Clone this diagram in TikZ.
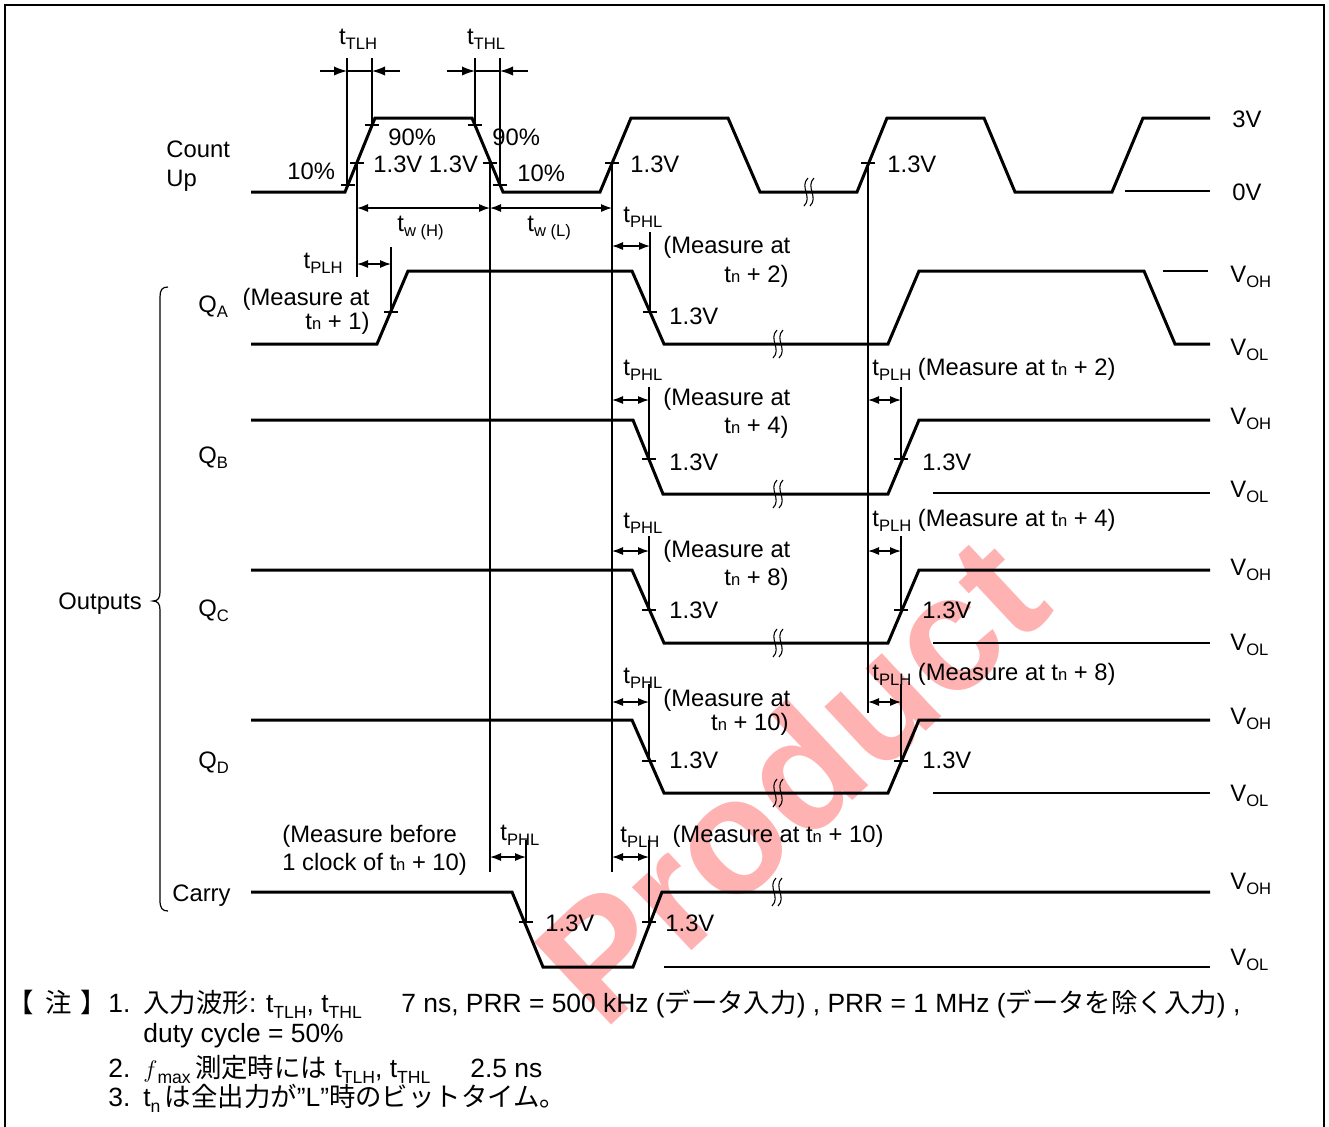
\documentclass[tikz,border=0pt]{standalone}
\usepackage{fontspec}
\setmainfont{Liberation Sans}
\newfontfamily\jp{Noto Sans CJK JP}
\usetikzlibrary{arrows.meta}
\newcommand\lbl{\fontsize{11.9}{14}\selectfont}
\newcommand\smf{\fontsize{8.3}{10}\selectfont}
\newcommand\lo[1]{\raisebox{-2.6pt}{\smf #1}}
\newcommand\tnn{t{\smf n}}
\newcommand\ntf{\fontsize{13.2}{16}\selectfont}
\newcommand\nsm{\fontsize{8.8}{11}\selectfont}
\newcommand\nlo[1]{\raisebox{-3pt}{\nsm #1}}
\definecolor{wm}{RGB}{255,178,178}
\newcommand\tk[2]{\draw[thinl] ({#1-7},#2) -- ({#1+7},#2);}
\newcommand\brk[2]{\draw[line width=0.55pt] ({#1+2},{#2-14}) .. controls ({#1-7},{#2-5}) and ({#1+7},{#2+5}) .. ({#1-2},{#2+14});
  \draw[line width=0.55pt] ({#1+8},{#2-14}) .. controls ({#1-1},{#2-5}) and ({#1+13},{#2+5}) .. ({#1+4},{#2+14});}
\begin{document}
\begin{tikzpicture}[x=0.5pt,y=-0.5pt,
  wave/.style={line width=1.5pt, line join=miter},
  thinl/.style={line width=0.6pt},
  dim/.style={line width=0.6pt, {Latex[length=5.5pt,width=4pt]}-{Latex[length=5.5pt,width=4pt]}},
  arr/.style={line width=0.6pt, -{Latex[length=6.5pt,width=4.6pt]}},
  lab/.style={font=\lbl, inner sep=0pt, anchor=base west},
  labr/.style={font=\lbl, inner sep=0pt, anchor=base east},
  labc/.style={font=\lbl, inner sep=0pt, anchor=base},
  note/.style={font=\ntf, inner sep=0pt, anchor=base west}]
\useasboundingbox (0,0) rectangle (1329,1126);
\fill[white] (0,0) rectangle (1329,1126);
% watermark
\node[rotate=43, anchor=base west, inner sep=0pt, text=wm, font=\fontsize{82}{82}\selectfont\bfseries] (wmk) at (603,1033) {Product};
% frame
\draw[line width=1.3pt] (5,1140) -- (5,5) -- (1324,5) -- (1324,1140);

% ---------- Count Up ----------
\draw[wave] (251,192) -- (345,192) -- (375,118) -- (472,118) -- (503,192) -- (600,192) -- (631,118) -- (728,118) -- (760,192) -- (857,192) -- (887,118) -- (984,118) -- (1015,192) -- (1112,192) -- (1143,118) -- (1210,118);
\draw[thinl] (1125,191) -- (1210,191);
\brk{806}{192}
\tk{357}{163} \tk{490}{163} \tk{612}{163} \tk{868}{163}
\tk{348}{185} \tk{372}{125} \tk{475}{125} \tk{500}{185}
% measurement verticals
\draw[thinl] (347,58) -- (347,185);
\draw[thinl] (372,58) -- (372,125);
\draw[thinl] (475,58) -- (475,125);
\draw[thinl] (500,58) -- (500,185);
\draw[thinl] (357,163) -- (357,277);
\draw[thinl] (490,163) -- (490,872);
\draw[thinl] (612,163) -- (612,872);
\draw[thinl] (868,163) -- (868,713);
% tTLH / tTHL
\draw[thinl] (347,71) -- (372,71);
\draw[arr] (320,71) -- (347,71);
\draw[arr] (400,71) -- (372,71);
\draw[thinl] (475,71) -- (500,71);
\draw[arr] (447,71) -- (475,71);
\draw[arr] (528,71) -- (500,71);
\node[labc] (ttlh) at (358,44) {t\lo{TLH}};
\node[labc] (tthl) at (486,44) {t\lo{THL}};
% tw
\draw[dim] (357,208) -- (490,208);
\draw[dim] (490,208) -- (612,208);
\node[lab] (twh) at (397,231) {t\lo{w (H)}};
\node[lab] (twl) at (527,231) {t\lo{w (L)}};
\node[lab] (p90a) at (388,145) {90\%};
\node[lab] (p90b) at (492,145) {90\%};
\node[lab] (v13ab) at (373,172) {1.3V 1.3V};
\node[lab] (p10a) at (287,179) {10\%};
\node[lab] (p10b) at (517,181) {10\%};
\node[lab] (v13c) at (630,172) {1.3V};
\node[lab] (v13d) at (887,172) {1.3V};
\node[lab] (l3v) at (1232,127) {3V};
\node[lab] (l0v) at (1232,200) {0V};
\node[lab] (cnt) at (166,157) {Count};
\node[lab] (up) at (166,186) {Up};

% ---------- QA ----------
\draw[wave] (251,344) -- (377,344) -- (408,271) -- (632,271) -- (664,344) -- (888,344) -- (919,271) -- (1144,271) -- (1175,344) -- (1210,344);
\draw[thinl] (1163,271) -- (1208,271);
\brk{775}{344}
\tk{391}{312} \tk{650}{312}
\draw[thinl] (391,247) -- (391,312);
\draw[thinl] (650,232) -- (650,312);
\draw[dim] (357,264) -- (391,264);
\draw[dim] (612,246) -- (650,246);
\node[labr] (qatplh) at (343,268) {t\lo{PLH}};
\node[labr] (qam1) at (370,305) {(Measure at};
\node[labr] (qam2) at (370,329) {\tnn{} + 1)};
\node[lab] (qatphl) at (623,222) {t\lo{PHL}};
\node[lab] (qam3) at (663,253) {(Measure at};
\node[labr] (qam4) at (789,282) {\tnn{} + 2)};
\node[lab] (qav) at (669,324) {1.3V};
\node[lab] (qa) at (198,312) {Q\lo{A}};
\node[lab] (qavoh) at (1230,282) {V\lo{OH}};
\node[lab] (qavol) at (1230,355) {V\lo{OL}};

% ---------- QB ----------
\draw[wave] (251,420) -- (633,420) -- (663,494) -- (888,494) -- (919,420) -- (1210,420);
\draw[thinl] (933,493) -- (1210,493);
\brk{775}{494}
\tk{649}{459} \tk{901}{459}
\draw[thinl] (649,387) -- (649,459);
\draw[thinl] (901,387) -- (901,459);
\draw[dim] (612,400) -- (649,400);
\draw[dim] (868,400) -- (901,400);
\node[lab] (qbtphl) at (623,375) {t\lo{PHL}};
\node[lab] (qbm1) at (663,405) {(Measure at};
\node[labr] (qbm2) at (789,433) {\tnn{} + 4)};
\node[lab] (qbv1) at (669,470) {1.3V};
\node[lab] (qbtplh) at (872,375) {t\lo{PLH} (Measure at \tnn{} + 2)};
\node[lab] (qbv2) at (922,470) {1.3V};
\node[lab] (qb) at (198,463) {Q\lo{B}};
\node[lab] (qbvoh) at (1230,424) {V\lo{OH}};
\node[lab] (qbvol) at (1230,497) {V\lo{OL}};

% ---------- QC ----------
\draw[wave] (251,570) -- (632,570) -- (664,643) -- (888,643) -- (919,570) -- (1210,570);
\draw[thinl] (933,643) -- (1210,643);
\brk{775}{643}
\tk{649}{610} \tk{901}{610}
\draw[thinl] (649,536) -- (649,610);
\draw[thinl] (901,536) -- (901,610);
\draw[dim] (612,551) -- (649,551);
\draw[dim] (868,551) -- (901,551);
\node[lab] (qctphl) at (623,528) {t\lo{PHL}};
\node[lab] (qcm1) at (663,557) {(Measure at};
\node[labr] (qcm2) at (789,585) {\tnn{} + 8)};
\node[lab] (qcv1) at (669,618) {1.3V};
\node[lab] (qctplh) at (872,526) {t\lo{PLH} (Measure at \tnn{} + 4)};
\node[lab] (qcv2) at (922,618) {1.3V};
\node[lab] (qc) at (198,616) {Q\lo{C}};
\node[lab] (qcvoh) at (1230,575) {V\lo{OH}};
\node[lab] (qcvol) at (1230,650) {V\lo{OL}};

% ---------- QD ----------
\draw[wave] (251,720) -- (632,720) -- (664,793) -- (888,793) -- (919,720) -- (1210,720);
\draw[thinl] (933,793) -- (1210,793);
\brk{775}{793}
\tk{649}{761} \tk{901}{761}
\draw[thinl] (649,684) -- (649,761);
\draw[thinl] (901,684) -- (901,761);
\draw[dim] (612,702) -- (649,702);
\draw[dim] (868,702) -- (901,702);
\node[lab] (qdtphl) at (623,683) {t\lo{PHL}};
\node[lab] (qdm1) at (663,706) {(Measure at};
\node[labr] (qdm2) at (789,730) {\tnn{} + 10)};
\node[lab] (qdv1) at (669,768) {1.3V};
\node[lab] (qdtplh) at (872,680) {t\lo{PLH} (Measure at \tnn{} + 8)};
\node[lab] (qdv2) at (922,768) {1.3V};
\node[lab] (qd) at (198,768) {Q\lo{D}};
\node[lab] (qdvoh) at (1230,724) {V\lo{OH}};
\node[lab] (qdvol) at (1230,801) {V\lo{OL}};

% ---------- Carry ----------
\draw[wave] (251,892) -- (512,892) -- (543,967) -- (633,967) -- (662,892) -- (1210,892);
\draw[thinl] (664,967) -- (1210,967);
\brk{774}{892}
\tk{526}{922} \tk{649}{922}
\draw[thinl] (526,840) -- (526,922);
\draw[thinl] (649,840) -- (649,922);
\draw[dim] (490,857) -- (526,857);
\draw[dim] (612,857) -- (649,857);
\node[lab] (cam1) at (282,842) {(Measure before};
\node[lab] (cam2) at (282,870) {1 clock of \tnn{} + 10)};
\node[lab] (catphl) at (500,840) {t\lo{PHL}};
\node[lab] (catplh) at (620,842) {t\lo{PLH}\ \ (Measure at \tnn{} + 10)};
\node[lab] (cav1) at (545,931) {1.3V};
\node[lab] (cav2) at (665,931) {1.3V};
\node[lab] (carry) at (172,901) {Carry};
\node[lab] (cavoh) at (1230,889) {V\lo{OH}};
\node[lab] (cavol) at (1230,965) {V\lo{OL}};

% ---------- Outputs brace ----------
\draw[thinl] (168,287) .. controls (162,287) and (160,290) .. (160,297) -- (160,592) .. controls (160,598) and (158,601) .. (153,601) .. controls (158,601) and (160,604) .. (160,610) -- (160,900) .. controls (160,908) and (162,911) .. (168,911);
\node[lab] (outs) at (58,609) {Outputs};

% ---------- notes ----------
\node[note] (n0a) at (7,1012) {\jp 【};
\node[note] (n0b) at (45,1012) {\jp 注};
\node[note] (n0c) at (80,1012) {\jp 】};
\node[note] (n1) at (108,1012) {1.};
\node[note] (n1a) at (143,1012) {{\jp 入力波形}: t\nlo{TLH}, t\nlo{THL}};
\node[note] (n1b) at (401,1012) {7 ns, PRR = 500 kHz ({\jp データ入力}) , PRR = 1 MHz ({\jp データを除く入力}) ,};
\node[note] (n2) at (143,1042) {duty cycle = 50\%};
\node[note] (n3) at (108,1077) {2.};
\node[note] (n3a) at (143,1077) {$f$\nlo{max}\,{\jp 測定時には} t\nlo{TLH}, t\nlo{THL}};
\node[note] (n3b) at (470,1077) {2.5 ns};
\node[note] (n4) at (108,1106) {3.};
\node[note] (n4a) at (143,1106) {t\nlo{n}\,{\jp は全出力が}\char"0022 L\char"0022{\jp 時のビットタイム。}};
\end{tikzpicture}
\end{document}
